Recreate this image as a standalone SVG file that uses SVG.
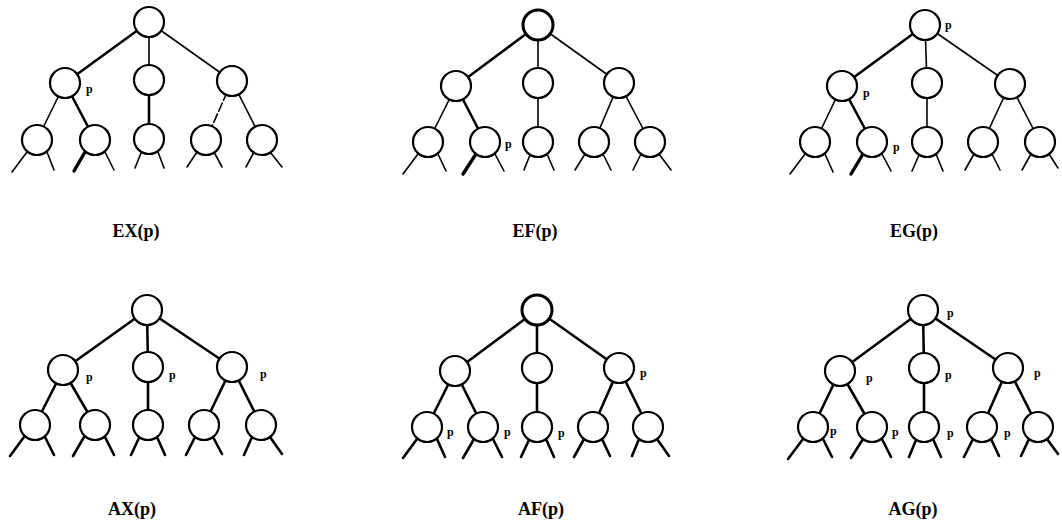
<svg xmlns="http://www.w3.org/2000/svg" width="1062" height="524" viewBox="0 0 1062 524">
  <style>
    .node { fill: #fff; stroke: #000; stroke-width: 2.2; }
    .e { stroke: #000; stroke-width: 1.6; fill: none; stroke-linecap: round; }
    .t { stroke: #000; stroke-width: 2.6; fill: none; stroke-linecap: round; }
    .h { stroke: #000; stroke-width: 3.4; fill: none; stroke-linecap: round; }
    .p { font-family: "Liberation Serif", serif; font-weight: bold; font-size: 12px; fill: #000; }
    .cap { font-family: "Liberation Serif", serif; font-weight: bold; font-size: 18px; fill: #000; text-anchor: middle; }
  </style>
  <rect width="1062" height="524" fill="#fff"/>

  <!-- connectors: EX(p) -->
  <g id="edges-ex">
    <line class="t" x1="149" y1="22" x2="65" y2="83"/>
    <line class="e" x1="149" y1="22" x2="149" y2="80"/>
    <line class="e" x1="149" y1="22" x2="232" y2="81"/>
    <line class="e" x1="65" y1="83" x2="37" y2="140"/>
    <line class="t" x1="65" y1="83" x2="95" y2="140"/>
    <line class="t" x1="149" y1="80" x2="149" y2="139"/>
    <line class="e" x1="232" y1="81" x2="206" y2="140" stroke-dasharray="9 3"/>
    <line class="e" x1="232" y1="81" x2="262" y2="140"/>
    <line class="e" x1="27" y1="152" x2="12" y2="172"/><line class="e" x1="47" y1="152" x2="54" y2="170"/>
    <line class="h" x1="85" y1="152" x2="74" y2="171"/><line class="e" x1="105" y1="152" x2="114" y2="170"/>
    <line class="e" x1="141" y1="153" x2="135" y2="168"/><line class="e" x1="158" y1="152" x2="164" y2="168"/>
    <line class="e" x1="197" y1="152" x2="187" y2="167"/><line class="e" x1="214" y1="152" x2="222" y2="167"/>
    <line class="e" x1="254" y1="152" x2="246" y2="167"/><line class="e" x1="270" y1="152" x2="282" y2="167"/>
  </g>
  <!-- connectors: EF(p) -->
  <g id="edges-ef">
    <line class="t" x1="538" y1="25" x2="456" y2="86"/>
    <line class="e" x1="538" y1="25" x2="538" y2="83"/>
    <line class="e" x1="538" y1="25" x2="619" y2="83"/>
    <line class="e" x1="456" y1="86" x2="428" y2="142"/>
    <line class="t" x1="456" y1="86" x2="485" y2="142"/>
    <line class="e" x1="538" y1="83" x2="538" y2="142"/>
    <line class="e" x1="619" y1="83" x2="594" y2="142"/>
    <line class="e" x1="619" y1="83" x2="650" y2="142"/>
    <line class="e" x1="418" y1="154" x2="403" y2="174"/><line class="e" x1="438" y1="154" x2="446" y2="171"/>
    <line class="h" x1="476" y1="154" x2="463" y2="174"/><line class="e" x1="495" y1="154" x2="504" y2="171"/>
    <line class="e" x1="530" y1="155" x2="524" y2="170"/><line class="e" x1="547" y1="154" x2="554" y2="170"/>
    <line class="e" x1="585" y1="154" x2="575" y2="170"/><line class="e" x1="603" y1="154" x2="611" y2="170"/>
    <line class="e" x1="641" y1="154" x2="633" y2="170"/><line class="e" x1="659" y1="154" x2="671" y2="170"/>
  </g>
  <!-- connectors: EG(p) -->
  <g id="edges-eg">
    <line class="t" x1="925" y1="25" x2="842" y2="86"/>
    <line class="e" x1="925" y1="25" x2="927" y2="83"/>
    <line class="e" x1="925" y1="25" x2="1010" y2="84"/>
    <line class="e" x1="842" y1="86" x2="815" y2="142"/>
    <line class="t" x1="842" y1="86" x2="872" y2="142"/>
    <line class="e" x1="927" y1="83" x2="927" y2="142"/>
    <line class="e" x1="1010" y1="84" x2="983" y2="142"/>
    <line class="e" x1="1010" y1="84" x2="1040" y2="142"/>
    <line class="e" x1="805" y1="154" x2="790" y2="174"/><line class="e" x1="825" y1="154" x2="833" y2="172"/>
    <line class="h" x1="863" y1="154" x2="851" y2="174"/><line class="e" x1="882" y1="154" x2="891" y2="171"/>
    <line class="e" x1="919" y1="155" x2="912" y2="171"/><line class="e" x1="936" y1="154" x2="943" y2="171"/>
    <line class="e" x1="974" y1="154" x2="965" y2="170"/><line class="e" x1="992" y1="154" x2="1000" y2="170"/>
    <line class="e" x1="1031" y1="154" x2="1022" y2="170"/><line class="e" x1="1049" y1="154" x2="1058" y2="168"/>
  </g>
  <!-- connectors: AX(p) -->
  <g id="edges-ax">
    <line class="t" x1="147" y1="310" x2="63" y2="370"/>
    <line class="t" x1="147" y1="310" x2="148" y2="367"/>
    <line class="t" x1="147" y1="310" x2="232" y2="367"/>
    <line class="t" x1="63" y1="370" x2="35" y2="425"/>
    <line class="t" x1="63" y1="370" x2="95" y2="425"/>
    <line class="t" x1="148" y1="367" x2="148" y2="425"/>
    <line class="t" x1="232" y1="367" x2="204" y2="425"/>
    <line class="t" x1="232" y1="367" x2="261" y2="425"/>
    <line class="t" x1="24" y1="437" x2="10" y2="456"/><line class="t" x1="45" y1="437" x2="54" y2="455"/>
    <line class="t" x1="84" y1="437" x2="73" y2="456"/><line class="t" x1="105" y1="437" x2="114" y2="455"/>
    <line class="t" x1="139" y1="438" x2="131" y2="455"/><line class="t" x1="157" y1="437" x2="165" y2="455"/>
    <line class="t" x1="195" y1="437" x2="186" y2="455"/><line class="t" x1="213" y1="437" x2="222" y2="454"/>
    <line class="t" x1="252" y1="437" x2="244" y2="455"/><line class="t" x1="270" y1="437" x2="282" y2="454"/>
  </g>
  <!-- connectors: AF(p) -->
  <g id="edges-af">
    <line class="t" x1="537" y1="310" x2="455" y2="371"/>
    <line class="t" x1="537" y1="310" x2="537" y2="368"/>
    <line class="t" x1="537" y1="310" x2="619" y2="368"/>
    <line class="t" x1="455" y1="371" x2="427" y2="427"/>
    <line class="t" x1="455" y1="371" x2="483" y2="427"/>
    <line class="t" x1="537" y1="368" x2="537" y2="427"/>
    <line class="t" x1="619" y1="368" x2="593" y2="427"/>
    <line class="t" x1="619" y1="368" x2="648" y2="427"/>
    <line class="t" x1="417" y1="439" x2="403" y2="458"/><line class="t" x1="437" y1="439" x2="445" y2="457"/>
    <line class="t" x1="474" y1="439" x2="463" y2="458"/><line class="t" x1="493" y1="439" x2="502" y2="457"/>
    <line class="t" x1="529" y1="440" x2="521" y2="457"/><line class="t" x1="546" y1="439" x2="554" y2="457"/>
    <line class="t" x1="584" y1="439" x2="574" y2="457"/><line class="t" x1="602" y1="439" x2="610" y2="456"/>
    <line class="t" x1="639" y1="439" x2="632" y2="456"/><line class="t" x1="657" y1="439" x2="669" y2="456"/>
  </g>
  <!-- connectors: AG(p) -->
  <g id="edges-ag">
    <line class="t" x1="923" y1="310" x2="840" y2="371"/>
    <line class="t" x1="923" y1="310" x2="924" y2="368"/>
    <line class="t" x1="923" y1="310" x2="1008" y2="368"/>
    <line class="t" x1="840" y1="371" x2="813" y2="427"/>
    <line class="t" x1="840" y1="371" x2="872" y2="427"/>
    <line class="t" x1="924" y1="368" x2="924" y2="427"/>
    <line class="t" x1="1008" y1="368" x2="982" y2="427"/>
    <line class="t" x1="1008" y1="368" x2="1038" y2="427"/>
    <line class="t" x1="803" y1="439" x2="788" y2="459"/><line class="t" x1="823" y1="439" x2="832" y2="457"/>
    <line class="t" x1="863" y1="439" x2="851" y2="458"/><line class="t" x1="882" y1="439" x2="891" y2="457"/>
    <line class="t" x1="916" y1="440" x2="909" y2="457"/><line class="t" x1="933" y1="439" x2="941" y2="457"/>
    <line class="t" x1="973" y1="439" x2="964" y2="457"/><line class="t" x1="991" y1="439" x2="999" y2="456"/>
    <line class="t" x1="1029" y1="439" x2="1021" y2="456"/><line class="t" x1="1047" y1="439" x2="1058" y2="454"/>
  </g>

  <!-- tree EX(p) -->
  <g id="tree-ex">
    <circle class="node" cx="149" cy="22" r="15"/>
    <circle class="node" cx="65" cy="83" r="15"/>
    <circle class="node" cx="149" cy="80" r="15"/>
    <circle class="node" cx="232" cy="81" r="15"/>
    <circle class="node" cx="37" cy="140" r="15"/>
    <circle class="node" cx="95" cy="140" r="15"/>
    <circle class="node" cx="149" cy="139" r="15"/>
    <circle class="node" cx="206" cy="140" r="15"/>
    <circle class="node" cx="262" cy="140" r="15"/>
    <text class="p" x="86" y="93">p</text>
    <text class="cap" x="136" y="237">EX(p)</text>
  </g>
  <!-- tree EF(p) -->
  <g id="tree-ef">
    <circle class="node" cx="538" cy="25" r="15" style="stroke-width:3"/>
    <circle class="node" cx="456" cy="86" r="15"/>
    <circle class="node" cx="538" cy="83" r="15"/>
    <circle class="node" cx="619" cy="83" r="15"/>
    <circle class="node" cx="428" cy="142" r="15"/>
    <circle class="node" cx="485" cy="142" r="15"/>
    <circle class="node" cx="538" cy="142" r="15"/>
    <circle class="node" cx="594" cy="142" r="15"/>
    <circle class="node" cx="650" cy="142" r="15"/>
    <text class="p" x="505" y="148">p</text>
    <text class="cap" x="535" y="237">EF(p)</text>
  </g>
  <!-- tree EG(p) -->
  <g id="tree-eg">
    <circle class="node" cx="925" cy="25" r="15"/>
    <circle class="node" cx="842" cy="86" r="15"/>
    <circle class="node" cx="927" cy="83" r="15"/>
    <circle class="node" cx="1010" cy="84" r="15"/>
    <circle class="node" cx="815" cy="142" r="15"/>
    <circle class="node" cx="872" cy="142" r="15"/>
    <circle class="node" cx="927" cy="142" r="15"/>
    <circle class="node" cx="983" cy="142" r="15"/>
    <circle class="node" cx="1040" cy="142" r="15"/>
    <text class="p" x="945" y="29">p</text>
    <text class="p" x="863" y="97">p</text>
    <text class="p" x="893" y="151">p</text>
    <text class="cap" x="914" y="237">EG(p)</text>
  </g>
  <!-- tree AX(p) -->
  <g id="tree-ax">
    <circle class="node" cx="147" cy="310" r="15"/>
    <circle class="node" cx="63" cy="370" r="15"/>
    <circle class="node" cx="148" cy="367" r="15"/>
    <circle class="node" cx="232" cy="367" r="15"/>
    <circle class="node" cx="35" cy="425" r="15"/>
    <circle class="node" cx="95" cy="425" r="15"/>
    <circle class="node" cx="148" cy="425" r="15"/>
    <circle class="node" cx="204" cy="425" r="15"/>
    <circle class="node" cx="261" cy="425" r="15"/>
    <text class="p" x="86" y="381">p</text>
    <text class="p" x="169" y="379">p</text>
    <text class="p" x="260" y="378">p</text>
    <text class="cap" x="132" y="515">AX(p)</text>
  </g>
  <!-- tree AF(p) -->
  <g id="tree-af">
    <circle class="node" cx="537" cy="310" r="15" style="stroke-width:3"/>
    <circle class="node" cx="455" cy="371" r="15"/>
    <circle class="node" cx="537" cy="368" r="15"/>
    <circle class="node" cx="619" cy="368" r="15"/>
    <circle class="node" cx="427" cy="427" r="15"/>
    <circle class="node" cx="483" cy="427" r="15"/>
    <circle class="node" cx="537" cy="427" r="15"/>
    <circle class="node" cx="593" cy="427" r="15"/>
    <circle class="node" cx="648" cy="427" r="15"/>
    <text class="p" x="640" y="377">p</text>
    <text class="p" x="447" y="436">p</text>
    <text class="p" x="504" y="436">p</text>
    <text class="p" x="558" y="437">p</text>
    <text class="cap" x="541" y="515">AF(p)</text>
  </g>
  <!-- tree AG(p) -->
  <g id="tree-ag">
    <circle class="node" cx="923" cy="310" r="15"/>
    <circle class="node" cx="840" cy="371" r="15"/>
    <circle class="node" cx="924" cy="368" r="15"/>
    <circle class="node" cx="1008" cy="368" r="15"/>
    <circle class="node" cx="813" cy="427" r="15"/>
    <circle class="node" cx="872" cy="427" r="15"/>
    <circle class="node" cx="924" cy="427" r="15"/>
    <circle class="node" cx="982" cy="427" r="15"/>
    <circle class="node" cx="1038" cy="427" r="15"/>
    <text class="p" x="947" y="317">p</text>
    <text class="p" x="866" y="382">p</text>
    <text class="p" x="945" y="379">p</text>
    <text class="p" x="1034" y="377">p</text>
    <text class="p" x="830" y="435">p</text>
    <text class="p" x="892" y="436">p</text>
    <text class="p" x="947" y="437">p</text>
    <text class="p" x="1004" y="437">p</text>
    <text class="cap" x="913" y="515">AG(p)</text>
  </g>
</svg>
